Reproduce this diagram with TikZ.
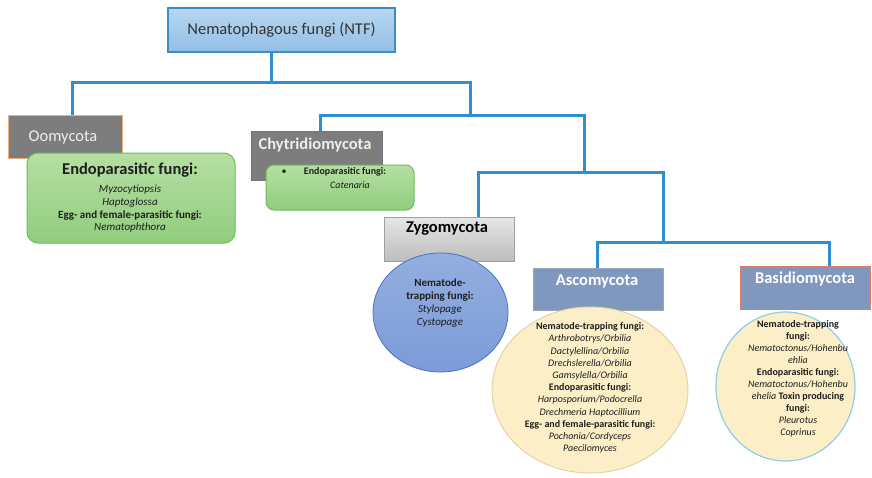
\documentclass[tikz,border=0pt]{standalone}
\usepackage{fontspec}
\setmainfont{Carlito}
\usetikzlibrary{shapes.geometric}
\definecolor{conn}{HTML}{2E8FD3}
\definecolor{titletop}{HTML}{B7D6F0}
\definecolor{titlebot}{HTML}{93BFE6}
\definecolor{titleborder}{HTML}{3B8CC9}
\definecolor{graybox}{HTML}{7D7D7D}
\definecolor{ooborder}{HTML}{E9B07E}
\definecolor{chborder}{HTML}{6E7480}
\definecolor{greentop}{HTML}{B5DFA3}
\definecolor{greenbot}{HTML}{91CD7E}
\definecolor{greenborder}{HTML}{6CBE5A}
\definecolor{zygotop}{HTML}{E6E6E6}
\definecolor{zygobot}{HTML}{BDBDBD}
\definecolor{zygoborder}{HTML}{A0A0A0}
\definecolor{bluetop}{HTML}{93AEDF}
\definecolor{bluebot}{HTML}{7C9BD8}
\definecolor{blueborder}{HTML}{4A72C0}
\definecolor{steel}{HTML}{8098BD}
\definecolor{asborder}{HTML}{9AA6B4}
\definecolor{bsborder}{HTML}{E07A64}
\definecolor{yellowfill}{HTML}{FCEFC7}
\definecolor{yellowborder}{HTML}{E0D4AE}
\definecolor{bscircborder}{HTML}{8FCDE6}
\definecolor{lighttext}{HTML}{EEEEEE}
\definecolor{darktext}{HTML}{1E1E1E}
\begin{document}
\begin{tikzpicture}[x=1pt,y=-1pt,
  conn/.style={draw=conn, line width=3pt},
  boxshape/.style={rectangle, inner sep=0pt, outer sep=0pt},
  head/.style={inner sep=0pt, font=\fontsize{16.5}{20}\selectfont\bfseries, text=lighttext},
  small/.style={inner sep=0pt, align=center, text=darktext, font=\fontsize{10}{12.2}\selectfont}
]
\useasboundingbox (0,0) rectangle (872,477);
\fill[white] (0,0) rectangle (872,477);

% junction coordinates
\coordinate (jt) at (271,82);
\coordinate (ja) at (72,82);
\coordinate (jb) at (470,82);
\coordinate (jc) at (470,115);
\coordinate (jd) at (320,115);
\coordinate (je) at (584,115);
\coordinate (jf) at (584,172);
\coordinate (jg) at (478,172);
\coordinate (jh) at (663,172);
\coordinate (ji) at (663,242);
\coordinate (jk) at (597,242);
\coordinate (jl) at (829,242);

% boxes
\node[boxshape, draw=titleborder, line width=1.2pt, top color=titletop, bottom color=titlebot,
      minimum width=227pt, minimum height=44pt] (t) at (281.5,30) {};
\node[boxshape, draw=ooborder, line width=0.8pt, fill=graybox,
      minimum width=114pt, minimum height=43pt] (oo) at (65,136.5) {};
\node[boxshape, draw=chborder, line width=0.8pt, fill=graybox,
      minimum width=131pt, minimum height=49pt] (ch) at (316.5,155.5) {};
\node[boxshape, draw=zygoborder, line width=0.8pt, top color=zygotop, bottom color=zygobot,
      minimum width=130pt, minimum height=44pt] (zy) at (449,239) {};
\node[boxshape, draw=asborder, line width=0.8pt, fill=steel,
      minimum width=130pt, minimum height=42pt] (as) at (598,289) {};
\node[boxshape, draw=bsborder, line width=0.8pt, fill=steel,
      minimum width=130pt, minimum height=43pt] (bs) at (805,287.5) {};

% connectors
\draw[conn] (t.south -| jt) -- (jt);
\draw[conn] (oo.north -| ja) -- (ja) -- (jb) -- (jc);
\draw[conn] (ch.north -| jd) -- (jd) -- (je) -- (jf);
\draw[conn] (zy.north -| jg) -- (jg) -- (jh) -- (ji);
\draw[conn] (as.north -| jk) -- (jk) -- (jl) -- (bs.north -| jl);

% overlapping content shapes
\node[boxshape, draw=greenborder, line width=1pt, rounded corners=11pt, top color=greentop, bottom color=greenbot,
      minimum width=208pt, minimum height=90pt] (oog) at (131,198) {};
\node[boxshape, draw=greenborder, line width=1pt, rounded corners=8pt, top color=greentop, bottom color=greenbot,
      minimum width=148pt, minimum height=45pt] (chg) at (340,187.5) {};
\node[ellipse, inner sep=0pt, draw=blueborder, line width=0.8pt, top color=bluetop, bottom color=bluebot,
      minimum width=135pt, minimum height=119pt] (zyc) at (440.5,312.5) {};
\node[ellipse, inner sep=0pt, draw=yellowborder, line width=1pt, fill=yellowfill,
      minimum width=196pt, minimum height=166pt] (asc) at (590,390) {};
\node[ellipse, inner sep=0pt, draw=bscircborder, line width=1.2pt, fill=yellowfill,
      minimum width=139pt, minimum height=149pt] (bsc) at (785.5,386.5) {};

% texts
\node[inner sep=0pt, font=\fontsize{16.5}{20}\selectfont, text=black!80] (tt) at (281.5,30) {Nematophagous fungi (NTF)};
\node[inner sep=0pt, font=\fontsize{16.5}{20}\selectfont, text=lighttext] (ootxt) at (63,137) {Oomycota};
\node[head] (chtxt) at (315,145) {Chytridiomycota};
\node[head, text=black] (zytxt) at (447,229) {Zygomycota};
\node[head, text=white] (astxt) at (597,281) {Ascomycota};
\node[head, text=white] (bstxt) at (805,279) {Basidiomycota};

\node[inner sep=0pt, text=darktext, font=\fontsize{16.5}{20}\selectfont\bfseries] (ooep) at (130,170) {Endoparasitic fungi:};
\node[small, font=\fontsize{11}{12.7}\selectfont] (oolist) at (130,209)
  {\textit{Myzocytiopsis}\\\textit{Haptoglossa}\\\textbf{Egg- and female-parasitic fungi:}\\\textit{Nematophthora}};

\node[inner sep=0pt, text=darktext, font=\fontsize{10}{12}\selectfont] (chbul) at (284,172) {\textbullet};
\node[inner sep=0pt, text=darktext, font=\fontsize{10}{12}\selectfont\bfseries] (chep) at (345,172) {Endoparasitic fungi:};
\node[inner sep=0pt, text=darktext, font=\fontsize{10}{12}\selectfont\itshape] (chcat) at (350,185) {Catenaria};

\node[small, font=\fontsize{11}{13}\selectfont] (zylist) at (440,303)
  {\textbf{Nematode-}\\\textbf{trapping fungi:}\\\textit{Stylopage}\\\textit{Cystopage}};

\node[small] (aslist) at (590,388)
  {\textbf{Nematode-trapping fungi:}\\\textit{Arthrobotrys/Orbilia}\\\textit{Dactylellina/Orbilia}\\\textit{Drechslerella/Orbilia}\\\textit{Gamsylella/Orbilia}\\\textbf{Endoparasitic fungi:}\\\textit{Harposporium/Podocrella}\\\textit{Drechmeria Haptocillium}\\\textbf{Egg- and female-parasitic fungi:}\\\textit{Pochonia/Cordyceps}\\\textit{Paecilomyces}};

\node[small, font=\fontsize{10}{12}\selectfont] (bslist) at (798,379)
  {\textbf{Nematode-trapping}\\\textbf{fungi:}\\\textit{Nematoctonus/Hohenbu}\\\textit{ehlia}\\\textbf{Endoparasitic fungi:}\\\textit{Nematoctonus/Hohenbu}\\\textit{ehelia} \textbf{Toxin producing}\\\textbf{fungi:}\\\textit{Pleurotus}\\\textit{Coprinus}};
\end{tikzpicture}
\end{document}
